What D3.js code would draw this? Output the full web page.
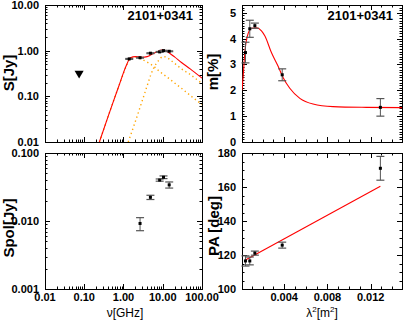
<!DOCTYPE html>
<html><head><meta charset="utf-8">
<script src="https://cdn.jsdelivr.net/npm/d3@7"></script>
<style>
body{margin:0;background:#fff}
svg{display:block}
text{font-family:"Liberation Sans",Arial,sans-serif}
</style>
</head><body>
<svg id="chart" width="407" height="323"></svg>
<script>
// total flux density spectrum
var nuS = [1.4, 2.64, 4.85, 8.35, 10.45, 14.6];
var fluxS = [0.66, 0.70, 0.88, 0.94, 1.0, 0.97];
var fluxErr = [0.015, 0.015, 0.02, 0.02, 0.02, 0.02];
var nuLim = [0.074];
var fluxLim = [0.32];

// fitted spectrum: total and two components
var fitNu = [0.243, 0.4, 0.6, 0.8, 1.0, 1.2, 1.5, 2, 3, 4, 5, 6, 8, 10, 12, 15, 20, 30, 50, 100];
var fitTotal = [0.01, 0.035, 0.095, 0.19, 0.33, 0.49, 0.70, 0.74, 0.72, 0.74, 0.81, 0.88, 0.98, 1.05, 1.0, 0.88, 0.73, 0.55, 0.40, 0.25];
var comp1Nu = [0.243, 0.4, 0.6, 0.8, 1.0, 1.2, 1.5, 2, 3, 4, 5, 6, 8, 10, 15, 20, 30, 50, 100];
var comp1 = [0.01, 0.035, 0.095, 0.19, 0.32, 0.48, 0.68, 0.72, 0.64, 0.56, 0.50, 0.45, 0.36, 0.31, 0.24, 0.196, 0.15, 0.105, 0.066];
var comp2Nu = [1.32, 2, 3, 4, 5, 6, 8, 10, 12, 15, 20, 30, 50, 100];
var comp2 = [0.01, 0.028, 0.08, 0.17, 0.30, 0.43, 0.62, 0.74, 0.73, 0.64, 0.53, 0.40, 0.30, 0.19];

// polarized flux
var nuPol = [2.64, 4.85, 8.35, 10.45, 14.6];
var sPol = [0.0092, 0.0223, 0.040, 0.044, 0.034];
var sPolErr = [0.002, 0.0016, 0.0015, 0.002, 0.0035];

// polarization vs lambda^2
var lam2 = [0.00042, 0.00082, 0.00129, 0.00382, 0.0129];
var mPct = [3.46, 4.38, 4.5, 2.6, 1.34];
var mErr = [0.4, 0.33, 0.1, 0.23, 0.34];
var mFitLam2 = [0.0001, 0.0002, 0.00037, 0.00067, 0.001, 0.00145, 0.0019, 0.00222, 0.00283, 0.00344, 0.0039, 0.00452, 0.00545, 0.00667, 0.00852, 0.0116, 0.0149];
var mFit = [2.0, 2.5, 3.5, 4.2, 4.4, 4.42, 4.3, 4.1, 3.45, 2.93, 2.5, 2.08, 1.69, 1.47, 1.37, 1.34, 1.33];
var pa = [116.5, 116.5, 121.1, 125.8, 171];
var paErr = [3, 2.3, 1.2, 1.75, 7];
var paFitLam2 = [0.00042, 0.0129];
var paFit = [117.0, 160.5];

var sourceName = "2101+0341";

var svg = d3.select("#chart");

var boxes = {
    tl: {x0: 45, x1: 202, y0: 5, y1: 142},
    tr: {x0: 242, x1: 402, y0: 5, y1: 142},
    bl: {x0: 45, x1: 202, y0: 153, y1: 289},
    br: {x0: 242, x1: 402, y0: 153, y1: 289}
};

var xNu = d3.scaleLog().domain([0.01, 100]).range([boxes.tl.x0, boxes.tl.x1]);
var yS = d3.scaleLog().domain([0.01, 10]).range([boxes.tl.y1, boxes.tl.y0]);
var yPol = d3.scaleLog().domain([0.001, 0.1]).range([boxes.bl.y1, boxes.bl.y0]);
var xLam = d3.scaleLinear().domain([0.0001, 0.0149]).range([boxes.tr.x0, boxes.tr.x1]);
var yM = d3.scaleLinear().domain([0, 5.3]).range([boxes.tr.y1, boxes.tr.y0]);
var yPA = d3.scaleLinear().domain([100, 180]).range([boxes.br.y1, boxes.br.y0]);

function logTicks(dom) {
    var out = [];
    var e0 = Math.floor(Math.log10(dom[0])), e1 = Math.ceil(Math.log10(dom[1]));
    for (var e = e0; e <= e1; e++) {
        for (var k = 1; k <= 9; k++) {
            var v = k * Math.pow(10, e);
            if (v >= dom[0] * 0.999 && v <= dom[1] * 1.001) out.push({v: v, major: k === 1});
        }
    }
    return out;
}
function linTicks(dom, major, minor) {
    var out = [];
    var n0 = Math.ceil(dom[0] / minor - 1e-6), n1 = Math.floor(dom[1] / minor + 1e-6);
    for (var n = n0; n <= n1; n++) {
        var v = n * minor;
        var r = v / major;
        out.push({v: v, major: Math.abs(r - Math.round(r)) < 1e-6});
    }
    return out;
}

// frame, ticks on all four sides, labels on left / bottom
function drawFrame(b, xs, xt, ys, yt, opt) {
    var g = svg.append("g");
    var tk = g.append("g").attr("stroke", "#000").attr("stroke-width", 1);
    xt.forEach(function(t) {
        var x = Math.round(xs(t.v)) + 0.5, len = t.major ? 5 : 2.5;
        tk.append("line").attr("x1", x).attr("x2", x).attr("y1", b.y1).attr("y2", b.y1 - len);
        tk.append("line").attr("x1", x).attr("x2", x).attr("y1", b.y0).attr("y2", b.y0 + len);
    });
    yt.forEach(function(t) {
        var y = Math.round(ys(t.v)) + 0.5, len = t.major ? 5 : 2.5;
        tk.append("line").attr("x1", b.x0).attr("x2", b.x0 + len).attr("y1", y).attr("y2", y);
        tk.append("line").attr("x1", b.x1).attr("x2", b.x1 - len).attr("y1", y).attr("y2", y);
    });
    g.append("rect")
        .attr("x", b.x0 + 0.5).attr("y", b.y0 + 0.5)
        .attr("width", b.x1 - b.x0).attr("height", b.y1 - b.y0)
        .attr("fill", "none").attr("stroke", "#000").attr("stroke-width", 1);

    if (opt.yfmt) {
        yt.filter(function(t) { return t.major && opt.yshow(t.v); }).forEach(function(t) {
            g.append("text")
                .attr("x", b.x0 - 6).attr("y", ys(t.v) + 4)
                .attr("text-anchor", "end")
                .attr("font-size", 11).attr("font-weight", "bold")
                .text(opt.yfmt(t.v));
        });
    }
    if (opt.xfmt) {
        xt.filter(function(t) { return t.major && opt.xshow(t.v); }).forEach(function(t) {
            g.append("text")
                .attr("x", xs(t.v)).attr("y", b.y1 + 12)
                .attr("text-anchor", "middle")
                .attr("font-size", 11).attr("font-weight", "bold")
                .text(opt.xfmt(t.v));
        });
    }
    return g;
}

function clipFor(id, b) {
    svg.append("clipPath").attr("id", id)
        .append("rect").attr("x", b.x0).attr("y", b.y0)
        .attr("width", b.x1 - b.x0).attr("height", b.y1 - b.y0);
    return "url(#" + id + ")";
}

function drawCurve(xv, yv, xs, ys, clip, color, dash) {
    var pts = xv.map(function(x, i) { return [xs(x), ys(yv[i])]; });
    svg.append("path")
        .attr("clip-path", clip)
        .attr("d", d3.line().curve(d3.curveMonotoneX)(pts))
        .attr("fill", "none")
        .attr("stroke", color)
        .attr("stroke-width", dash ? 1.4 : 1.1)
        .attr("stroke-dasharray", dash || null);
}

function drawPoints(xv, yv, ev, xs, ys) {
    var g = svg.append("g");
    xv.forEach(function(x, i) {
        var px = xs(x), ylo = ys(yv[i] - ev[i]), yhi = ys(yv[i] + ev[i]);
        g.append("line").attr("x1", px).attr("x2", px).attr("y1", ylo).attr("y2", yhi)
            .attr("stroke", "#555").attr("stroke-width", 1);
        [ylo, yhi].forEach(function(y) {
            g.append("line").attr("x1", px - 4).attr("x2", px + 4).attr("y1", y).attr("y2", y)
                .attr("stroke", "#555").attr("stroke-width", 1.2);
        });
        g.append("rect").attr("x", px - 1.5).attr("y", ys(yv[i]) - 1.5)
            .attr("width", 3).attr("height", 3).attr("fill", "#000");
    });
}

var fmt2 = d3.format(".2f"), fmt3 = d3.format(".3f"), fmt0 = d3.format("d");
var all = function() { return true; };

// ---- top left: S
var c1 = clipFor("ctl", boxes.tl);
drawFrame(boxes.tl, xNu, logTicks(xNu.domain()), yS, logTicks(yS.domain()),
    {yfmt: fmt2, yshow: all});
drawCurve(comp1Nu, comp1, xNu, yS, c1, "#ffa500", "1.3,3");
drawCurve(comp2Nu, comp2, xNu, yS, c1, "#ffa500", "1.3,3");
drawCurve(fitNu, fitTotal, xNu, yS, c1, "#ff0000");
drawPoints(nuS, fluxS, fluxErr, xNu, yS);
svg.selectAll("path.lim").data(nuLim).enter().append("path")
    .attr("class", "lim")
    .attr("d", d3.symbol().type(d3.symbolTriangle).size(36))
    .attr("transform", function(d, i) { return "translate(" + xNu(d) + "," + yS(fluxLim[i]) + ") rotate(180)"; })
    .attr("fill", "#000");

// ---- top right: m
var c2 = clipFor("ctr", boxes.tr);
drawFrame(boxes.tr, xLam, linTicks(xLam.domain(), 0.004, 0.001), yM, linTicks(yM.domain(), 1, 0.1),
    {yfmt: fmt0, yshow: all});
drawCurve(mFitLam2, mFit, xLam, yM, c2, "#ff0000");
drawPoints(lam2, mPct, mErr, xLam, yM);

// ---- bottom left: Spol
var c3 = clipFor("cbl", boxes.bl);
drawFrame(boxes.bl, xNu, logTicks(xNu.domain()), yPol, logTicks(yPol.domain()),
    {yfmt: fmt3, yshow: all, xfmt: fmt2, xshow: all});
drawPoints(nuPol, sPol, sPolErr, xNu, yPol);

// ---- bottom right: PA
var c4 = clipFor("cbr", boxes.br);
drawFrame(boxes.br, xLam, linTicks(xLam.domain(), 0.004, 0.001), yPA, linTicks(yPA.domain(), 20, 5),
    {yfmt: fmt0, yshow: all, xfmt: fmt3, xshow: function(v) { return v > 0.001; }});
drawCurve(paFitLam2, paFit, xLam, yPA, c4, "#ff0000");
drawPoints(lam2, pa, paErr, xLam, yPA);

// source labels
[boxes.tl, boxes.tr].forEach(function(b) {
    svg.append("text")
        .attr("x", b.x1 - 9).attr("y", b.y0 + 15)
        .attr("text-anchor", "end")
        .attr("font-size", 13).attr("font-weight", "bold")
        .text(sourceName);
});

// axis titles
var yTitles = [
    {t: "S[Jy]", x: 9, y: 73},
    {t: "m[%]", x: 213, y: 72},
    {t: "Spol[Jy]", x: 9, y: 228},
    {t: "PA [deg]", x: 214, y: 226}
];
yTitles.forEach(function(d) {
    svg.append("text")
        .attr("transform", "translate(" + d.x + "," + d.y + ") rotate(-90)")
        .attr("text-anchor", "middle").attr("dy", "0.35em")
        .attr("font-size", 15).attr("font-weight", "bold")
        .text(d.t);
});

svg.append("text")
    .attr("x", 125).attr("y", 317)
    .attr("text-anchor", "middle").attr("font-size", 12)
    .text("\u03bd[GHz]");
var lt = svg.append("text")
    .attr("x", 322).attr("y", 317)
    .attr("text-anchor", "middle").attr("font-size", 12);
lt.append("tspan").text("\u03bb");
lt.append("tspan").attr("dy", -5).attr("font-size", 8).text("2");
lt.append("tspan").attr("dy", 5).text("[m");
lt.append("tspan").attr("dy", -5).attr("font-size", 8).text("2");
lt.append("tspan").attr("dy", 5).text("]");
</script>
</body></html>
